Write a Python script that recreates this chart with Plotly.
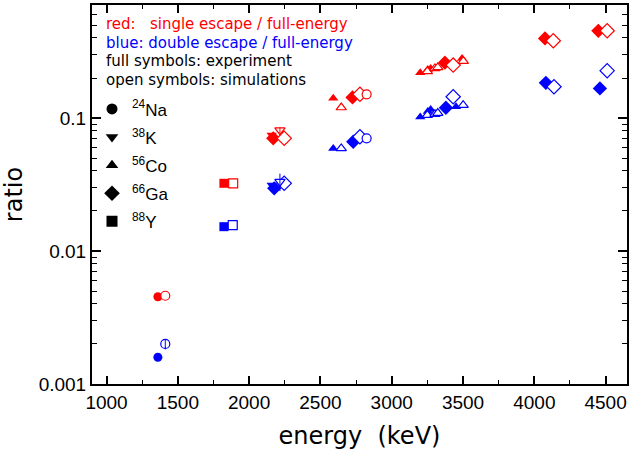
import plotly.graph_objects as go

RED = "#ff0000"
BLUE = "#0000ff"

# ---------------- data (energy in keV, ratio) ----------------
# 24Na (circles)
na_exp_se_E = [1360]
na_exp_se_R = [0.00453]
na_sim_se_E = [1412, 2824]
na_sim_se_R = [0.00461, 0.1507]
na_exp_de_E = [1360]
na_exp_de_R = [0.00159]
na_sim_de_E = [1412, 2824]
na_sim_de_R = [0.00200, 0.0704]
na_sim_de_err = [0.00018, 0.0]

# 38K (triangle-down)
k_exp_se_E = [2158]
k_exp_se_R = [0.0745]
k_sim_se_E = [2216]
k_sim_se_R = [0.0810]
k_sim_se_err = [0.004]
k_exp_de_E = [2158]
k_exp_de_R = [0.0313]
k_sim_de_E = [2216]
k_sim_de_R = [0.0332]
k_sim_de_err = [0.005]

# 56Co (triangle-up)
co_exp_se_E = [2590, 3200, 3253, 3273, 3493]
co_exp_se_R = [0.141, 0.219, 0.232, 0.236, 0.280]
co_sim_se_E = [2646, 3250, 3303, 3323, 3502]
co_sim_se_R = [0.120, 0.224, 0.236, 0.240, 0.268]
co_exp_de_E = [2590, 3200, 3253, 3273, 3451]
co_exp_de_R = [0.0591, 0.102, 0.112, 0.116, 0.1216]
co_sim_de_E = [2646, 3250, 3303, 3323, 3501]
co_sim_de_R = [0.0591, 0.105, 0.107, 0.109, 0.125]

# 66Ga (diamonds)
ga_exp_se_E = [2169, 2725, 3373, 4075, 4449]
ga_exp_se_R = [0.0704, 0.143, 0.261, 0.397, 0.453]
ga_sim_se_E = [2246, 2777, 3431, 4133, 4511]
ga_sim_se_R = [0.0704, 0.151, 0.250, 0.381, 0.453]
ga_exp_de_E = [2176, 2730, 3380, 4081, 4460]
ga_exp_de_R = [0.0296, 0.0663, 0.1195, 0.184, 0.167]
ga_sim_de_E = [2246, 2777, 3431, 4138, 4511]
ga_sim_de_R = [0.0323, 0.0723, 0.1446, 0.172, 0.227]

# 88Y (squares)
y_exp_se_E = [1823]
y_exp_se_R = [0.0323]
y_sim_se_E = [1888]
y_sim_se_R = [0.0323]
y_exp_de_E = [1823]
y_exp_de_R = [0.01524]
y_sim_de_E = [1885]
y_sim_de_R = [0.01567]

x_tick_vals = [1000, 1500, 2000, 2500, 3000, 3500, 4000, 4500]
y_tick_vals = [0.001, 0.01, 0.1]
y_tick_text = ["0.001", "0.01", "0.1"]
y_minor_vals = [m * d for d in (0.001, 0.01, 0.1) for m in range(2, 10)]

legend_labels = ["<sup>24</sup>Na", "<sup>38</sup>K", "<sup>56</sup>Co",
                 "<sup>66</sup>Ga", "<sup>88</sup>Y"]
legend_symbols = ["circle", "triangle-down", "triangle-up", "diamond", "square"]

info_lines = [
    ("red:&nbsp;&nbsp; single escape / full-energy", RED),
    ("blue: double escape / full-energy", BLUE),
    ("full symbols: experiment", "black"),
    ("open symbols: simulations", "black"),
]

# ---------------- figure ----------------
fig = go.Figure()

SIZES = {"circle": 9, "triangle-down": 9, "triangle-up": 9, "diamond": 11, "square": 9}


def filled(E, R, sym, col):
    fig.add_trace(go.Scatter(
        x=E, y=R, mode="markers", showlegend=False,
        marker=dict(symbol=sym, size=SIZES[sym], color=col, line=dict(width=0)),
    ))


def opened(E, R, sym, col, err=None):
    fig.add_trace(go.Scatter(
        x=E, y=R, mode="markers", showlegend=False,
        marker=dict(symbol=sym, size=SIZES[sym], color="white",
                    line=dict(width=1.2, color=col)),
    ))
    if err is not None:
        fig.add_trace(go.Scatter(
            x=E, y=R, mode="markers", showlegend=False,
            marker=dict(size=1, opacity=0),
            error_y=dict(type="data", array=err, symmetric=True,
                         thickness=1, width=0, color=col),
        ))


# experiment (filled) first
for E, R, sym, col in [
    (na_exp_se_E, na_exp_se_R, "circle", RED),
    (na_exp_de_E, na_exp_de_R, "circle", BLUE),
    (y_exp_se_E, y_exp_se_R, "square", RED),
    (y_exp_de_E, y_exp_de_R, "square", BLUE),
    (k_exp_se_E, k_exp_se_R, "triangle-down", RED),
    (k_exp_de_E, k_exp_de_R, "triangle-down", BLUE),
    (co_exp_se_E, co_exp_se_R, "triangle-up", RED),
    (co_exp_de_E, co_exp_de_R, "triangle-up", BLUE),
    (ga_exp_se_E, ga_exp_se_R, "diamond", RED),
    (ga_exp_de_E, ga_exp_de_R, "diamond", BLUE),
]:
    filled(E, R, sym, col)

# simulations (open)
opened(y_sim_se_E, y_sim_se_R, "square", RED)
opened(y_sim_de_E, y_sim_de_R, "square", BLUE)
opened(ga_sim_se_E, ga_sim_se_R, "diamond", RED)
opened(ga_sim_de_E, ga_sim_de_R, "diamond", BLUE)
opened(na_sim_se_E, na_sim_se_R, "circle", RED)
opened(na_sim_de_E, na_sim_de_R, "circle", BLUE, na_sim_de_err)
opened(k_sim_se_E, k_sim_se_R, "triangle-down", RED, k_sim_se_err)
opened(k_sim_de_E, k_sim_de_R, "triangle-down", BLUE, k_sim_de_err)
opened(co_sim_se_E, co_sim_se_R, "triangle-up", RED)
opened(co_sim_de_E, co_sim_de_R, "triangle-up", BLUE)

# legend entries (symbols only)
for i, (lab, sym) in enumerate(zip(legend_labels, legend_symbols)):
    fig.add_trace(go.Scatter(
        x=[None], y=[None], mode="markers", name=lab, legendgroup=f"g{i}",
        marker=dict(symbol=sym, size=12 if sym == "diamond" else 11, color="black"),
    ))

# info text lines
line_y = [0.950, 0.901, 0.851, 0.801]
for (txt, col), yy in zip(info_lines, line_y):
    fig.add_annotation(
        text=txt, xref="paper", yref="paper",
        x=0.022, y=yy, xanchor="left", yanchor="middle", showarrow=False,
        font=dict(family="DejaVu Sans", size=15, color=col),
    )

axis_common = dict(
    showline=True, linewidth=2, linecolor="black", mirror="ticks",
    ticks="inside", tickcolor="black", tickwidth=1.5,
    showgrid=False, zeroline=False, automargin=False,
    tickfont=dict(family="Liberation Sans", size=19, color="black"),
)

fig.update_layout(
    width=632, height=453,
    margin=dict(l=92, r=5, t=5, b=69),
    paper_bgcolor="white", plot_bgcolor="white",
    xaxis=dict(
        range=[898, 4650], tickvals=x_tick_vals, ticklen=8,
        minor=dict(dtick=250, ticks="inside", ticklen=4, tickwidth=1.2, tickcolor="black"),
        title=dict(text="energy&nbsp; (keV)", standoff=15,
                   font=dict(family="DejaVu Sans", size=24, color="black")),
        **axis_common,
    ),
    yaxis=dict(
        type="log", range=[-3, -0.15], tickvals=y_tick_vals, ticktext=y_tick_text,
        ticklen=9,
        minor=dict(tickvals=y_minor_vals, ticks="inside", ticklen=5, tickwidth=1.2,
                   tickcolor="black"),
        title=dict(text="ratio", standoff=14,
                   font=dict(family="DejaVu Sans", size=24, color="black")),
        **axis_common,
    ),
    legend=dict(
        x=0.0, y=0.772, xanchor="left", yanchor="top",
        bgcolor="rgba(0,0,0,0)", borderwidth=0, tracegroupgap=3,
        font=dict(family="Liberation Sans", size=17, color="black"),
    ),
    showlegend=True,
)

fig.write_html("out.html", config={"displayModeBar": False},
               post_script="document.body.style.margin='0px';")
